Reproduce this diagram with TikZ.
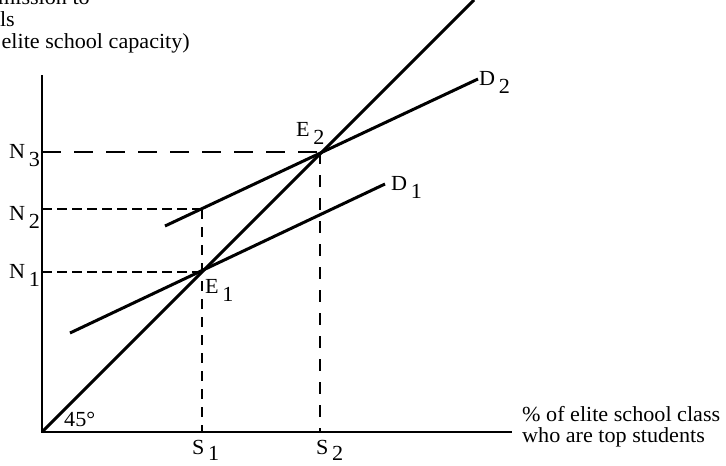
\documentclass[tikz,border=0pt]{standalone}
\usepackage{fontspec}
\setmainfont{Liberation Serif}[FakeStretch=1.03]
\newcommand\lowr[1]{\,\raisebox{-8pt}{#1}}
\newcommand\lowrs[1]{\,\raisebox{-6.5pt}{#1}}
\begin{document}
\begin{tikzpicture}[x=1pt,y=-1pt,
  lbl/.style={inner sep=0pt,anchor=base west,font=\fontsize{21.5}{21.5}\selectfont},
  lblr/.style={inner sep=0pt,anchor=base east,font=\fontsize{21.5}{21.5}\selectfont},
  axis/.style={line width=2pt},
  curve/.style={line width=3pt},
  longdash/.style={line width=2.5pt,dash pattern=on 19pt off 13pt},
  shortdash/.style={line width=2.2pt,dash pattern=on 10pt off 5pt},
  vdash/.style={line width=2.2pt,dash pattern=on 10pt off 8pt}]
\useasboundingbox (0,0) rectangle (726,466);
\clip (0,0) rectangle (726,466);
% key points
\coordinate (O) at (42,432);
\coordinate (ytop) at (42,75);
\coordinate (xend) at (512,432);
\coordinate (fortyfive) at (474,0);
\coordinate (E1) at (202,272);
\coordinate (E2) at (320,152);
\coordinate (P2) at (202,209);
\coordinate (n1) at (42,272);
\coordinate (n2) at (42,209);
\coordinate (n3) at (42,152);
\coordinate (s1) at (202,432);
\coordinate (s2) at (320,432);
\coordinate (d1a) at (70,333);
\coordinate (d1b) at (385,184);
\coordinate (d2a) at (165,226);
\coordinate (d2b) at (478,79);
% axes
\draw[axis] (ytop) -- (O) -- (xend);
% 45 degree line
\draw[curve] (O) -- (fortyfive);
% demand lines
\draw[curve] (d1a) -- (d1b);
\draw[curve] (d2a) -- (d2b);
% dashed guides
\draw[longdash] (n3) -- (E2);
\draw[shortdash] (n2) -- (P2);
\draw[shortdash] (n1) -- (E1);
\draw[vdash] (P2) -- (s1);
\draw[vdash,dash pattern=on 12pt off 11pt] (E2) -- (s2);
% labels
\node[lbl] (lN3) at (9,158) {N\lowr{3}};
\node[lbl] (lN2) at (9,220) {N\lowr{2}};
\node[lbl] (lN1) at (9,278) {N\lowr{1}};
\node[lbl] (lS1) at (192,454) {S\lowrs{1}};
\node[lbl] (lS2) at (316,454) {S\lowrs{2}};
\node[lbl] (lE1) at (205,293) {E\lowr{1}};
\node[lbl] (lE2) at (296,136) {E\lowr{2}};
\node[lbl] (lD1) at (391,190) {D\lowr{1}};
\node[lbl] (lD2) at (479,85) {D\lowr{2}};
\node[lbl] (l45) at (64,426) {45°};
\node[lbl] (xl1) at (522,421) {\% of elite school class};
\node[lbl] (xl2) at (522,442) {who are top students};
\node[lblr] (yl1) at (90,4) {mission to};
\node[lblr] (yl2) at (15,26) {ls};
\node[lblr] (yl3) at (190,48) {elite school capacity)};
\end{tikzpicture}
\end{document}
